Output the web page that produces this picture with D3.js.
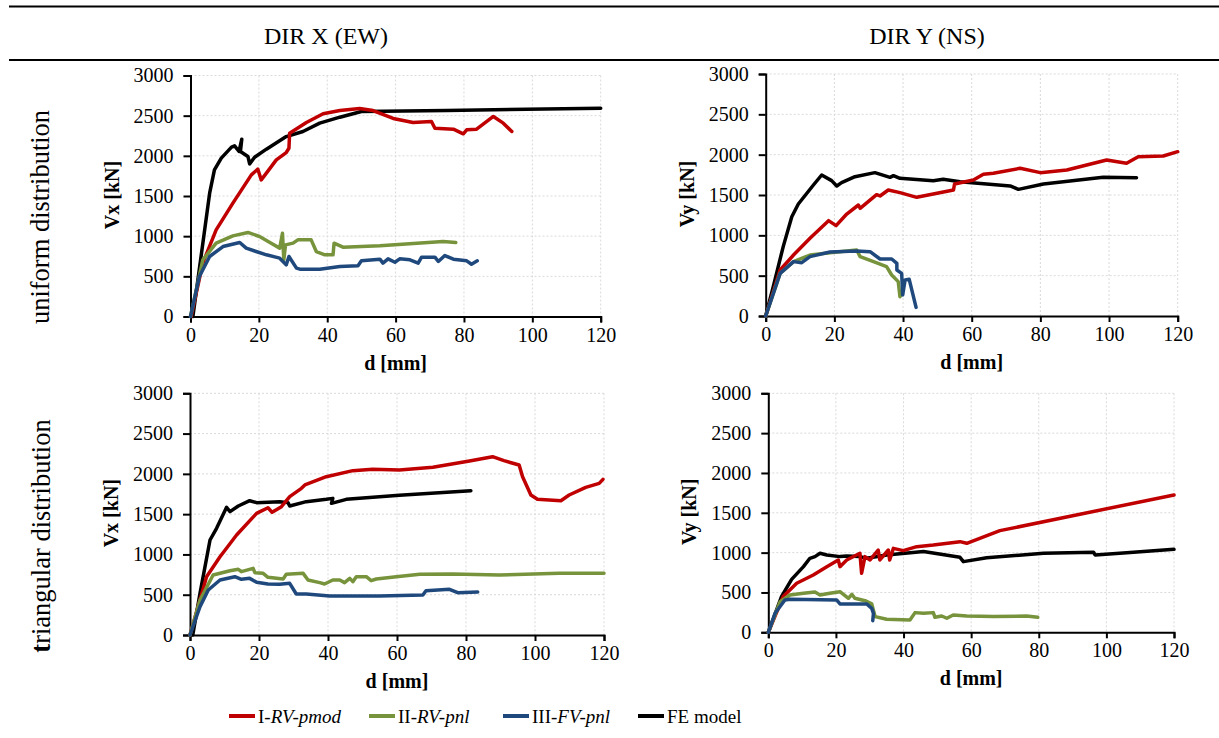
<!DOCTYPE html>
<html>
<head>
<meta charset="utf-8">
<script src="https://cdn.jsdelivr.net/npm/d3@7"></script>
<style>
  body { margin: 0; background: #fff; }
  svg { font-family: 'Liberation Serif', 'Times New Roman', serif; }
  .grid line { stroke: #d9d9d9; stroke-width: 1; stroke-dasharray: 2,2; }
  .axis path, .axis line { stroke: #000; stroke-width: 2; }
  .axis text { font-family: 'Liberation Serif', serif; font-size: 20px; fill: #000; }
  .curve { fill: none; stroke-width: 3.5; stroke-linejoin: round; stroke-linecap: round; }
</style>
</head>
<body>
<svg id="chart" width="1219" height="738"></svg>
<script>

// ---- data (d [mm], V [kN]) ----
const xTicks = [0, 20, 40, 60, 80, 100, 120];
const yTicks = [0, 500, 1000, 1500, 2000, 2500, 3000];
const colTitles = ['DIR X (EW)', 'DIR Y (NS)'];
const rowTitles = ['uniform distribution', 'triangular distribution'];
const seriesKeys = ['pmod', 'rvpnl', 'fvpnl', 'fe'];
const seriesColors = ['#c00000', '#77933c', '#1f497d', '#000000'];

// DIR X - uniform
const xUniPmod = [[0.2,0],[3.6,664],[7.5,1079],[12.4,1411],[17.8,1763],[19.7,1834],[20.7,1701],[22.2,1784],[25.1,1950],[28,2041],[28.8,2095],[29,2282],[33.9,2415],[38.8,2523],[43.7,2564],[49.5,2589],[53.4,2564],[59.3,2465],[65.1,2415],[70.5,2427],[71.5,2344],[76.9,2332],[79.8,2274],[80.8,2324],[83.7,2332],[88.6,2490],[91.5,2407],[94,2303]];
const xUniRvPnl = [[0,0],[3.6,705],[7.5,913],[12.4,1004],[16.8,1046],[20.2,996],[23.6,913],[26.1,851],[26.9,1037],[27.3,705],[27.8,892],[30,913],[31.4,954],[35.3,954],[36.8,809],[39.3,768],[41.7,768],[42,913],[44.6,863],[55.4,880],[73.9,934],[77.6,921]];
const xUniFvPnl = [[0,0],[2.6,498],[5.6,747],[9.5,871],[14.4,921],[16.3,851],[19.2,809],[22.2,768],[26.1,726],[28,643],[28.8,747],[31,602],[32,589],[37.8,589],[43.7,622],[49,631],[50,693],[55.4,714],[56.3,664],[57.8,718],[59.8,676],[61.2,718],[64.2,705],[66.6,664],[67.6,739],[71.5,739],[72.5,685],[74.4,759],[76.9,714],[80.8,693],[82.2,651],[83.9,693]];
const xUniFe = [[0.7,0],[5.6,1535],[7,1826],[9,1971],[12,2108],[12.9,2124],[14.2,2054],[15,2207],[14.6,2054],[16.8,1992],[17.3,1900],[18.75,1983],[22.2,2083],[28,2240],[32.9,2303],[37.8,2407],[43.7,2481],[50,2552],[74.9,2564],[120,2593]];

// DIR Y - uniform
const yUniPmod = [[0,0],[4.2,570],[8.1,756],[12.9,963],[18.3,1182],[20.5,1120],[23.6,1264],[27,1376],[27.5,1335],[32.3,1504],[33.3,1488],[35.7,1562],[39.1,1529],[44,1471],[48.8,1512],[54.7,1562],[55,1636],[60.5,1686],[63.4,1756],[66.3,1769],[74.1,1831],[80,1777],[87.7,1810],[99.3,1934],[105.1,1893],[108.5,1975],[115.8,1983],[120,2037]];
const yUniRvPnl = [[0,0],[4.2,529],[8.1,674],[12.9,756],[18.7,785],[26.5,818],[27.5,736],[31.4,674],[35.2,612],[36.7,508],[38.6,426],[39.1,240],[39.6,281]];
const yUniFvPnl = [[0,0],[4.2,529],[8.1,674],[10.5,661],[12.9,736],[18.7,793],[26.5,806],[30.4,798],[33.3,707],[36.7,707],[38.2,653],[38.2,570],[39.6,529],[39.9,260],[40.6,446],[41.8,455],[43.8,107]];
const yUniFe = [[0,0],[2.2,364],[5.1,860],[7.6,1231],[9.5,1388],[13.9,1624],[16.3,1748],[19.2,1678],[20.7,1612],[22.1,1653],[26,1727],[31.8,1777],[36.2,1719],[37.2,1740],[39.1,1707],[48.8,1678],[51.7,1694],[56.6,1665],[71.2,1612],[73.6,1570],[80.9,1636],[98.3,1719],[108,1715]];

// DIR X - triangular
const xTriPmod = [[0,0],[4.8,724],[8.7,972],[13.5,1241],[19.3,1510],[22.6,1580],[23.8,1523],[26.5,1593],[28.9,1717],[32.3,1820],[33.3,1862],[39.5,1965],[47.2,2040],[52.9,2056],[60.7,2048],[70.4,2081],[81,2160],[87.7,2213],[91,2164],[95.4,2110],[96.4,1965],[98.8,1738],[100.7,1684],[107.5,1667],[109.9,1738],[114.7,1833],[118.6,1882],[119.7,1932]];
const xTriRvPnl = [[0,0],[2.9,434],[6.7,745],[11.6,798],[14,815],[14.9,786],[18.3,827],[18.8,774],[21.2,765],[22.6,716],[27,695],[27.9,753],[32.8,765],[34.2,683],[37.6,650],[39,633],[41.4,683],[43.4,683],[44.8,650],[46.3,703],[47.2,662],[48.2,724],[51.1,724],[52.5,674],[54,695],[59.8,724],[66.6,753],[76.1,757],[89.6,745],[107,765],[120,765]];
const xTriFvPnl = [[0,0],[2.9,352],[5.3,559],[8.7,683],[13,724],[14.9,691],[17.3,703],[19.3,654],[22.6,633],[26,629],[28.9,641],[30.8,509],[33.7,509],[40.5,484],[54.9,484],[67.5,496],[68.4,550],[75.2,567],[77.6,525],[83.4,534]];
const xTriFe = [[0.8,0],[2.9,517],[5.8,1179],[7.7,1324],[10.6,1585],[11.6,1531],[14,1601],[17.3,1667],[19.3,1643],[26,1655],[28.4,1643],[28.9,1601],[33.7,1655],[39.5,1684],[41.4,1696],[41,1634],[45.3,1684],[60.7,1734],[81.4,1791]];

// DIR Y - triangular
const yTriPmod = [[0,0],[4.4,448],[8.4,615],[13.3,720],[17.3,824],[20.7,908],[21.2,824],[23.2,908],[27.1,992],[27.6,741],[28.6,950],[30.1,908],[32.5,1033],[33,908],[35.5,1033],[35.9,908],[37,1054],[39.9,1025],[43.9,1075],[48.8,1096],[56.7,1138],[58.7,1117],[68.5,1276],[120,1724]];
const yTriRvPnl = [[0,0],[3.5,385],[6.4,469],[10.4,490],[13.8,506],[15.3,469],[18.2,490],[21.2,510],[23.7,427],[24.7,477],[25.6,427],[28.6,397],[30.6,356],[31.6,197],[35,163],[41.9,155],[43.4,247],[45.9,238],[48.8,247],[49.3,188],[51.3,205],[52.8,176],[54.7,218],[58.7,205],[66.6,197],[76.4,205],[79.7,188]];
const yTriFvPnl = [[0,0],[2,238],[4.9,406],[6.4,414],[20.2,406],[21.2,356],[29.1,356],[30.6,301],[31.1,238],[30.9,146]];
const yTriFe = [[0,0],[3.9,448],[6.9,665],[10.4,824],[12.3,929],[13.8,950],[15.3,992],[17.3,971],[21.2,950],[23.2,958],[27.1,950],[29.1,929],[35,971],[45.9,1013],[56.7,941],[57.7,887],[64.6,937],[81.4,992],[96.2,1004],[96.7,971],[106,1000],[120,1042]];

// ---- layout ----
const svg = d3.select('#chart');

const panels = [
  {x0: 190.5, x1: 600.7, y0: 75.5, y1: 316.5, ytitle: 'Vx', series: [xUniPmod, xUniRvPnl, xUniFvPnl, xUniFe]},
  {x0: 765.7, x1: 1177.7, y0: 74, y1: 316, ytitle: 'Vy', series: [yUniPmod, yUniRvPnl, yUniFvPnl, yUniFe]},
  {x0: 190, x1: 604, y0: 393.3, y1: 635, ytitle: 'Vx', series: [xTriPmod, xTriRvPnl, xTriFvPnl, xTriFe]},
  {x0: 768.3, x1: 1174, y0: 393.3, y1: 632.3, ytitle: 'Vy', series: [yTriPmod, yTriRvPnl, yTriFvPnl, yTriFe]}
];

// table rules and column headers
svg.append('line').attr('x1', 9).attr('x2', 1219).attr('y1', 6.5).attr('y2', 6.5)
  .attr('stroke', '#000').attr('stroke-width', 2);
svg.append('line').attr('x1', 9).attr('x2', 1219).attr('y1', 60).attr('y2', 60)
  .attr('stroke', '#000').attr('stroke-width', 2);

[326, 927].forEach((cx, i) => {
  svg.append('text')
    .attr('x', cx).attr('y', 44)
    .attr('text-anchor', 'middle')
    .attr('font-size', 24)
    .text(colTitles[i]);
});

// row labels
svg.append('text')
  .attr('transform', 'translate(49,217) rotate(-90)')
  .attr('text-anchor', 'middle')
  .attr('font-size', 26.5)
  .text(rowTitles[0]);

var tri = svg.append('text')
  .attr('transform', 'translate(50,536) rotate(-90)')
  .attr('text-anchor', 'middle')
  .attr('font-size', 26.5);
tri.append('tspan').attr('font-weight', 'bold').text(rowTitles[1].slice(0, 1));
tri.append('tspan').text(rowTitles[1].slice(1));

// draw order: FE first, then the test curves on top
const drawOrder = [3, 0, 1, 2];

panels.forEach(p => {
  var x = d3.scaleLinear().domain([0, 120]).range([p.x0, p.x1]);
  var y = d3.scaleLinear().domain([0, 3000]).range([p.y1, p.y0]);

  var g = svg.append('g');

  // grid
  var grid = g.append('g').attr('class', 'grid');
  grid.selectAll('.gx').data(xTicks.slice(1)).enter().append('line')
    .attr('x1', d => x(d)).attr('x2', d => x(d))
    .attr('y1', p.y0).attr('y2', p.y1);
  grid.selectAll('.gy').data(yTicks.slice(1)).enter().append('line')
    .attr('x1', p.x0).attr('x2', p.x1)
    .attr('y1', d => y(d)).attr('y2', d => y(d));

  // axes
  g.append('g')
    .attr('class', 'axis')
    .attr('transform', 'translate(0,' + p.y1 + ')')
    .call(d3.axisBottom(x).tickValues(xTicks).tickSize(6).tickSizeOuter(6).tickPadding(5).tickFormat(d3.format('d')))
    .attr('font-family', null).attr('font-size', null);

  g.append('g')
    .attr('class', 'axis')
    .attr('transform', 'translate(' + p.x0 + ',0)')
    .call(d3.axisLeft(y).tickValues(yTicks).tickSize(7).tickSizeOuter(7).tickPadding(10).tickFormat(d3.format('d')))
    .attr('font-family', null).attr('font-size', null);

  // axis titles
  g.append('text')
    .attr('x', (p.x0 + p.x1) / 2).attr('y', p.y1 + 53)
    .attr('text-anchor', 'middle')
    .attr('font-size', 20).attr('font-weight', 'bold')
    .text('d [mm]');

  g.append('text')
    .attr('transform', 'translate(' + (p.x0 - 72) + ',' + ((p.y0 + p.y1) / 2 - 1) + ') rotate(-90)')
    .attr('text-anchor', 'middle')
    .attr('font-size', 20).attr('font-weight', 'bold')
    .text(p.ytitle + ' [kN]');

  // curves
  var line = d3.line().x(d => x(d[0])).y(d => y(d[1]));
  drawOrder.forEach(i => {
    g.append('path')
      .datum(p.series[i])
      .attr('class', 'curve')
      .attr('id', 'curve-' + seriesKeys[i])
      .attr('stroke', seriesColors[i])
      .attr('d', line);
  });
});

// legend
const legendItems = [
  {x: 229, plain: 'I-', ital: 'RV-pmod'},
  {x: 369, plain: 'II-', ital: 'RV-pnl'},
  {x: 503, plain: 'III-', ital: 'FV-pnl'},
  {x: 638, plain: 'FE model', ital: ''}
];

legendItems.forEach((item, i) => {
  svg.append('line')
    .attr('x1', item.x).attr('x2', item.x + 26)
    .attr('y1', 716).attr('y2', 716)
    .attr('stroke', seriesColors[i]).attr('stroke-width', 4);
  var t = svg.append('text')
    .attr('x', item.x + 29).attr('y', 723)
    .attr('font-size', 19);
  t.append('tspan').text(item.plain);
  if (item.ital) t.append('tspan').attr('font-style', 'italic').text(item.ital);
});

</script>
</body>
</html>
